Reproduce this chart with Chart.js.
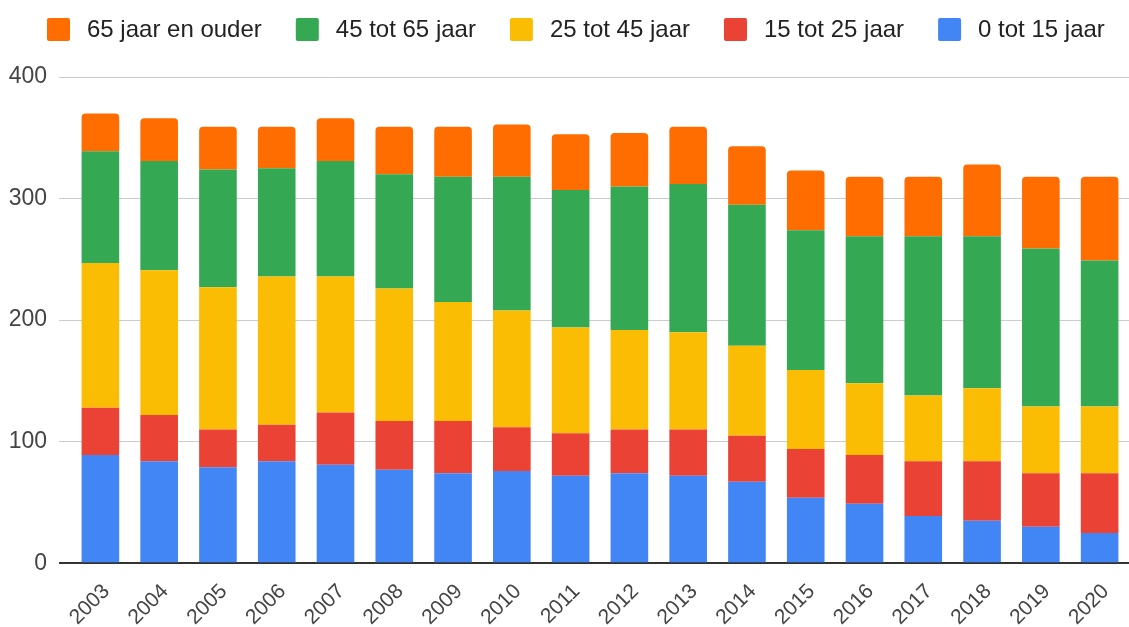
<!DOCTYPE html>
<html>
<head>
<meta charset="utf-8">
<script src="https://cdn.jsdelivr.net/npm/chart.js@4/dist/chart.umd.min.js"></script>
<style>
  html, body { margin: 0; padding: 0; background: #fff; }
  #wrap { width: 1129px; height: 627px; position: relative; }
</style>
</head>
<body>
<div id="wrap"><canvas id="ageChart"></canvas></div>
<script>
const years = ["2003", "2004", "2005", "2006", "2007", "2008", "2009", "2010", "2011",
  "2012", "2013", "2014", "2015", "2016", "2017", "2018", "2019", "2020"];

// stacked from bottom to top
const age0to15 = [89, 84, 79, 84, 81, 77, 74, 76, 72, 74, 72, 67, 54, 49, 39, 35, 30, 25];
const age15to25 = [39, 38, 31, 30, 43, 40, 43, 36, 35, 36, 38, 38, 40, 40, 45, 49, 44, 49];
const age25to45 = [119, 119, 117, 122, 112, 109, 98, 96, 87, 82, 80, 74, 65, 59, 54, 60, 55, 55];
const age45to65 = [92, 90, 97, 89, 95, 94, 103, 110, 113, 118, 122, 116, 115, 121, 131, 125, 130, 120];
const age65plus = [31, 35, 35, 34, 35, 39, 41, 43, 46, 44, 47, 48, 49, 49, 49, 59, 59, 69];

const yTicks = [0, 100, 200, 300, 400];

const FONT = '"Liberation Sans", Arial, sans-serif';

// legend drawn on top, in the same order as the reference (top of stack first)
const topLegend = {
  id: "topLegend",
  afterDraw(chart) {
    const ctx = chart.ctx;
    const items = chart.data.datasets.slice().reverse();
    ctx.save();
    ctx.font = `24px ${FONT}`;
    ctx.textBaseline = "alphabetic";
    let x = 47;
    items.forEach(ds => {
      ctx.fillStyle = ds.backgroundColor;
      ctx.beginPath();
      ctx.roundRect(x, 18, 23, 23, 2);
      ctx.fill();
      ctx.fillStyle = "#222";
      ctx.fillText(ds.label, x + 40, 37);
      x += 40 + ctx.measureText(ds.label).width + 34;
    });
    ctx.restore();
  }
};

function initAgeChart() {
  const canvas = document.getElementById("ageChart");
  if (!canvas || !window.Chart) {
    return;
  }

  const barOpts = {
    categoryPercentage: 1,
    barPercentage: 0.64,
    borderWidth: 0
  };

  new Chart(canvas, {
    type: "bar",
    data: {
      labels: years,
      datasets: [
        { label: "0 tot 15 jaar", data: age0to15, backgroundColor: "#4285F4", ...barOpts },
        { label: "15 tot 25 jaar", data: age15to25, backgroundColor: "#EA4335", ...barOpts },
        { label: "25 tot 45 jaar", data: age25to45, backgroundColor: "#FBBC04", ...barOpts },
        { label: "45 tot 65 jaar", data: age45to65, backgroundColor: "#34A853", ...barOpts },
        { label: "65 jaar en ouder", data: age65plus, backgroundColor: "#FF6D01", borderRadius: 4, ...barOpts }
      ]
    },
    options: {
      responsive: true,
      maintainAspectRatio: false,
      animation: false,
      layout: {
        padding: { top: 77, left: 8, right: 0, bottom: 0 }
      },
      plugins: {
        legend: { display: false },
        tooltip: { enabled: false }
      },
      scales: {
        x: {
          stacked: true,
          grid: { display: false },
          border: { display: false },
          afterFit: scale => {
            scale.height = 63.7;
          },
          ticks: {
            color: "#444",
            font: { family: FONT, size: 21 },
            minRotation: 45,
            maxRotation: 45,
            padding: 8,
            labelOffset: 6,
            autoSkip: false
          }
        },
        y: {
          stacked: true,
          min: 0,
          max: 400,
          afterBuildTicks: scale => {
            scale.ticks = yTicks.map(v => ({ value: v }));
          },
          afterFit: scale => {
            scale.width = 63;
          },
          border: { display: false },
          grid: {
            color: ctx => (ctx.tick && ctx.tick.value === 0 ? "#333" : "#cccccc"),
            tickColor: ctx => (ctx.tick && ctx.tick.value === 0 ? "#333" : "#cccccc"),
            lineWidth: ctx => (ctx.tick && ctx.tick.value === 0 ? 2 : 1),
            tickLength: 12
          },
          ticks: {
            color: "#444",
            font: { family: FONT, size: 23 },
            padding: 12
          }
        }
      }
    },
    plugins: [topLegend]
  });
}

initAgeChart();
</script>
</body>
</html>
